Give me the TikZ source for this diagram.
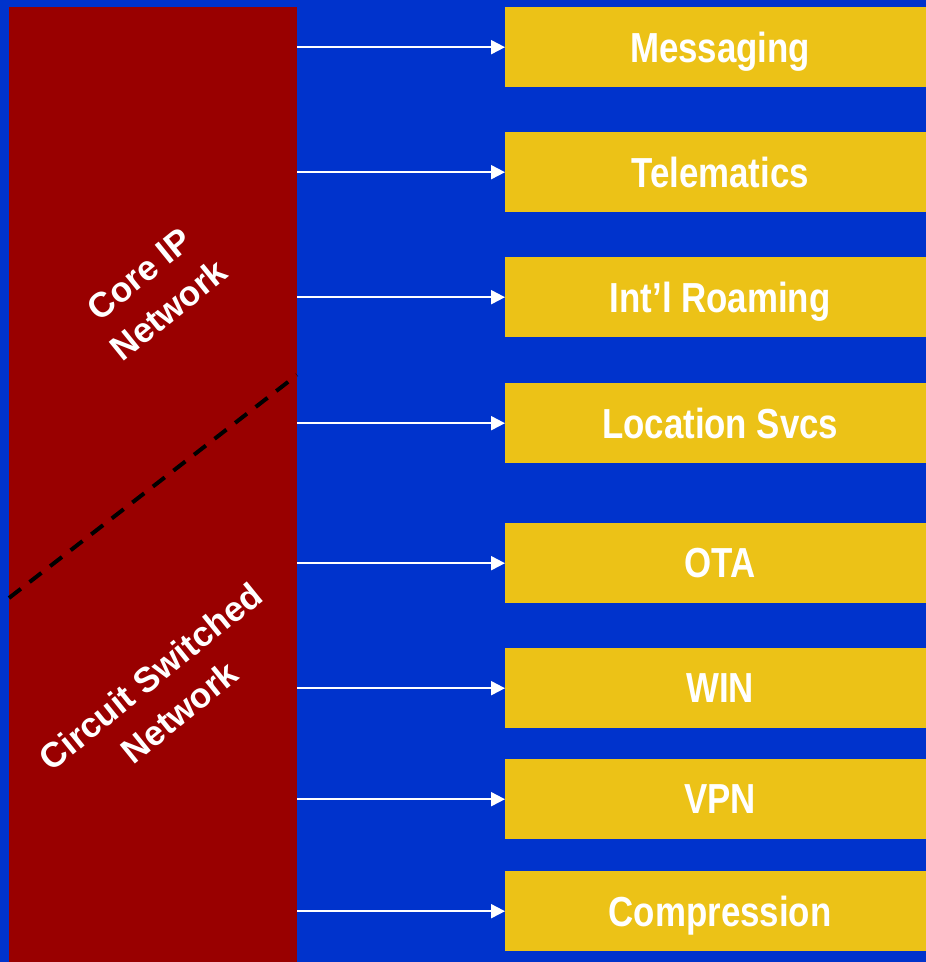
\documentclass[tikz,border=0pt]{standalone}
\usepackage{fontspec}
\setmainfont{Liberation Sans}
\newfontfamily\narrowfont[FakeStretch=0.83]{Liberation Sans}
\usetikzlibrary{arrows.meta}
\definecolor{bgblue}{RGB}{0,51,204}
\definecolor{netred}{RGB}{153,0,0}
\definecolor{svcyellow}{RGB}{236,194,23}
\tikzset{
  x=1pt, y=1pt,
  svcbox/.style={fill=svcyellow, draw=none, anchor=north west, minimum width=430pt, minimum height=80pt, inner sep=0pt, text=white, font=\narrowfont\bfseries\fontsize{42}{48}\selectfont, text depth=0pt},
  netlabel/.style={text=white, align=center, rotate=39, font=\bfseries\fontsize{35}{46}\selectfont},
  feed/.style={draw=white, line width=2pt, -{Triangle[length=14pt,width=14pt]}},
  divider/.style={draw=black, line width=4pt, dash pattern=on 15pt off 11pt}
}
\begin{document}
\begin{tikzpicture}
\useasboundingbox (0,0) rectangle (926,962);
\fill[bgblue] (0,0) rectangle (926,962);
\node (red) [fill=netred, anchor=south west, minimum width=288pt, minimum height=955pt, inner sep=0pt] at (9,0) {};
\coordinate (dA) at (9,364);
\coordinate (dB) at (297,587);
\draw[divider] (dA) -- (dB);
\node[netlabel] (core) at (154,670) {Core IP\\Network};
\node[netlabel] (circ) at (165,268) {Circuit Switched\\Network};
\node[svcbox] (s1) at (505,955) {Messaging};
\node[svcbox] (s2) at (505,830) {Telematics};
\node[svcbox] (s3) at (505,705) {Int’l Roaming};
\node[svcbox] (s4) at (505,579) {Location Svcs};
\node[svcbox] (s5) at (505,439) {OTA};
\node[svcbox] (s6) at (505,314) {WIN};
\node[svcbox] (s7) at (505,203) {VPN};
\node[svcbox] (s8) at (505,91) {Compression};
\foreach \s in {s1,s2,s3,s4,s5,s6,s7,s8}{
  \draw[feed] (red.east |- \s.west) -- (\s.west);
}
\end{tikzpicture}
\end{document}
